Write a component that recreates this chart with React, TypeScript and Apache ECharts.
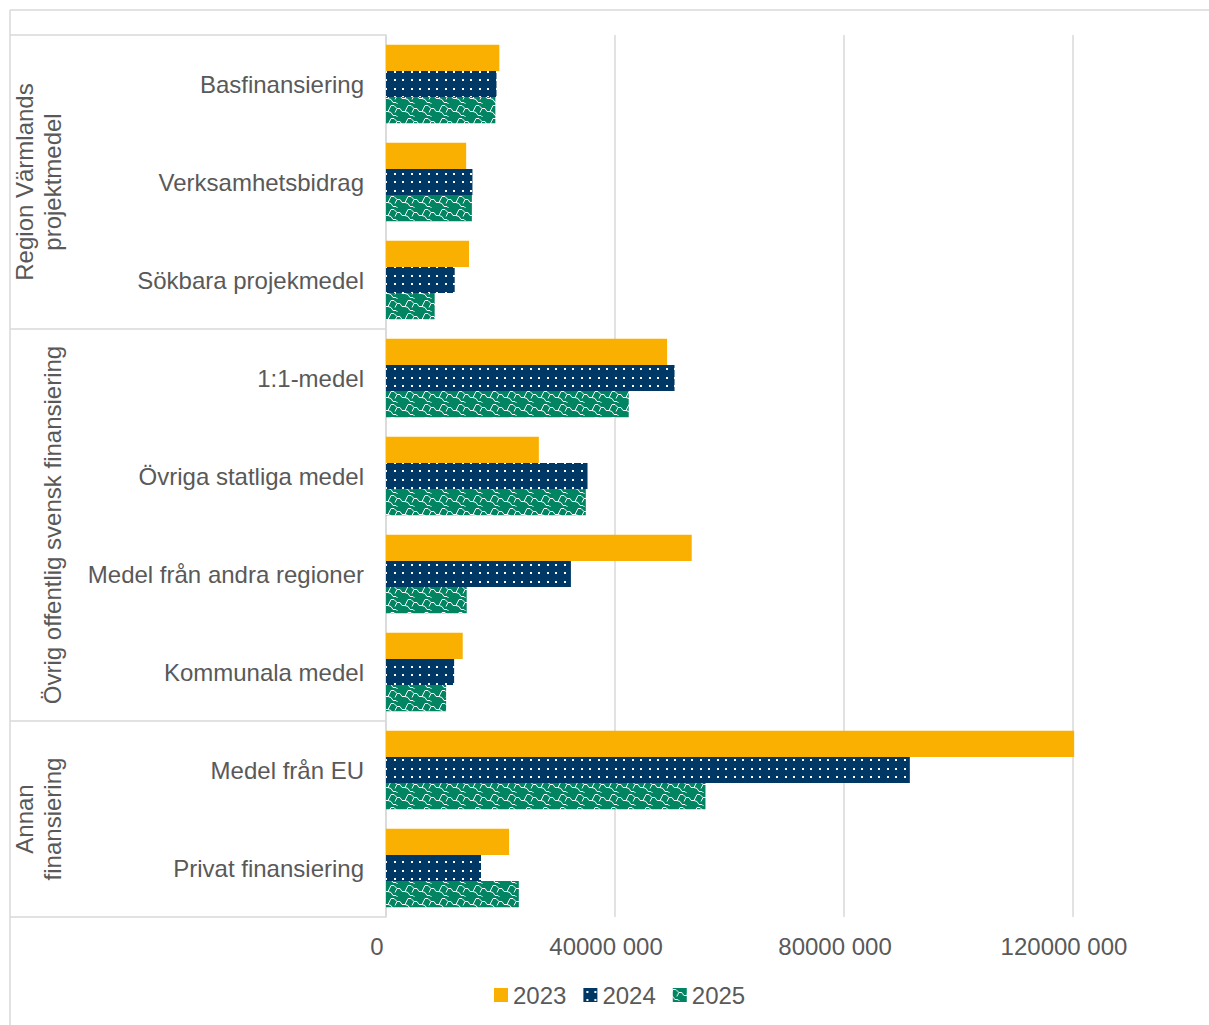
import React, { useEffect, useRef } from "react";
import * as echarts from "echarts";

const categories = [
  "Basfinansiering",
  "Verksamhetsbidrag",
  "Sökbara projekmedel",
  "1:1-medel",
  "Övriga statliga medel",
  "Medel från andra regioner",
  "Kommunala medel",
  "Medel från EU",
  "Privat finansiering",
];
const seriesNames = ["2023", "2024", "2025"];
const values2023 = [19800000, 14000000, 14500000, 49100000, 26700000, 53400000, 13400000, 120200000, 21500000];
const values2024 = [19300000, 15100000, 12000000, 50400000, 35200000, 32300000, 11900000, 91500000, 16600000];
const values2025 = [19100000, 15000000, 8500000, 42400000, 34900000, 14100000, 10500000, 55800000, 23200000];
const xTickLabels = ["0", "40000 000", "80000 000", "120000 000"];
const groupLabels = ["Region Värmlands\nprojektmedel", "Övrig offentlig svensk finansiering", "Annan\nfinansiering"];
const groupSizes = [3, 4, 2];

const FONT = "'Liberation Sans', Arial, sans-serif";
const TEXT = "#595959";
const LINE = "#D9D9D9";
const C2023 = "#F9B000";
const C2024 = "#003865";
const C2025 = "#008461";

// layout
const GRID_LEFT = 386;
const GRID_TOP = 35;
const GRID_H = 882;
const GRID_W = 916;

function makeDots() {
  const c = document.createElement("canvas");
  c.width = 17;
  c.height = 17;
  const ctx = c.getContext("2d")!;
  ctx.fillStyle = C2024;
  ctx.fillRect(0, 0, 17, 17);
  ctx.fillStyle = "#ffffff";
  ctx.fillRect(3, 3, 2, 2);
  ctx.fillRect(11, 3, 2, 2);
  ctx.fillRect(3, 11, 2, 2);
  ctx.fillRect(11, 11, 2, 2);
  return c;
}

function makeWave() {
  const w = 17, h = 13;
  const c = document.createElement("canvas");
  c.width = w;
  c.height = h;
  const ctx = c.getContext("2d")!;
  ctx.fillStyle = C2025;
  ctx.fillRect(0, 0, w, h);
  ctx.strokeStyle = "#ffffff";
  ctx.lineWidth = 1;
  ctx.beginPath();
  // stepped wave lines
  ctx.moveTo(0, 1.5);
  ctx.lineTo(3, 1.5);
  ctx.lineTo(6, 4.5);
  ctx.lineTo(9, 4.5);
  ctx.lineTo(11, 7.5);
  ctx.lineTo(14, 7.5);
  ctx.lineTo(17, 1.5);
  ctx.moveTo(0, 8.5);
  ctx.lineTo(2, 11.5);
  ctx.lineTo(5, 11.5);
  ctx.lineTo(6.5, 13);
  ctx.moveTo(6, 4.5);
  ctx.lineTo(4, 8.5);
  ctx.moveTo(14, 7.5);
  ctx.lineTo(17, 8.5);
  ctx.stroke();
  return c;
}

export default function App() {
  const ref = useRef<HTMLDivElement>(null);
  useEffect(() => {
    if (!ref.current) return;
    const chart = echarts.init(ref.current, null, { renderer: "svg" });
    const dots = makeDots();
    const wave = makeWave();
    const bandH = GRID_H / categories.length;

    const graphics: any[] = [
      { type: "line", shape: { x1: 10, y1: 10, x2: 1209, y2: 10 }, style: { stroke: LINE, lineWidth: 1.5 } },
      { type: "line", shape: { x1: 10, y1: 10, x2: 10, y2: 1025 }, style: { stroke: LINE, lineWidth: 1.5 } },
      { type: "line", shape: { x1: 10, y1: GRID_TOP, x2: GRID_LEFT, y2: GRID_TOP }, style: { stroke: LINE, lineWidth: 1.5 } },
    ];
    let acc = 0;
    groupLabels.forEach((label, i) => {
      const start = acc;
      acc += groupSizes[i];
      const yEnd = GRID_TOP + acc * bandH;
      const yMid = GRID_TOP + ((start + acc) / 2) * bandH;
      graphics.push({
        type: "line",
        shape: { x1: 10, y1: yEnd, x2: GRID_LEFT, y2: yEnd },
        style: { stroke: LINE, lineWidth: 1.5 },
      });
      graphics.push({
        type: "text",
        x: 66,
        y: yMid,
        rotation: Math.PI / 2,
        style: {
          text: label,
          fill: TEXT,
          fontSize: 24,
          fontFamily: FONT,
          lineHeight: 28,
          align: "center",
          verticalAlign: "bottom",
        },
      });
    });

    const option: any = {
      animation: false,
      grid: {
        left: GRID_LEFT,
        top: GRID_TOP,
        width: GRID_W,
        height: GRID_H,
        containLabel: false,
        outerBoundsMode: "none",
      },
      xAxis: {
        type: "value",
        min: 0,
        max: 160000000,
        interval: 40000000,
        axisLine: { show: false },
        axisTick: { show: false },
        splitLine: { show: true, lineStyle: { color: LINE, width: 1.5 } },
        axisLabel: {
          formatter: (_v: number, i: number) => xTickLabels[i] ?? "",
          color: TEXT,
          fontSize: 24,
          fontFamily: FONT,
          margin: 17,
          padding: [0, 18, 0, 0],
        },
      },
      yAxis: {
        type: "category",
        data: categories,
        inverse: true,
        axisLine: { show: true, lineStyle: { color: LINE, width: 1.5 } },
        axisTick: { show: false },
        axisLabel: { color: TEXT, fontSize: 24, fontFamily: FONT, margin: 22 },
        splitLine: { show: false },
      },
      legend: {
        data: seriesNames,
        left: 489,
        top: 978,
        itemWidth: 14,
        itemHeight: 14,
        itemGap: 17,
        icon: "rect",
        textStyle: { color: TEXT, fontSize: 24, fontFamily: FONT },
      },
      graphic: graphics,
      series: [
        {
          name: seriesNames[0],
          type: "bar",
          data: values2023,
          barGap: "0%",
          barCategoryGap: "20%",
          itemStyle: { color: C2023 },
        },
        {
          name: seriesNames[1],
          type: "bar",
          data: values2024,
          barGap: "0%",
          barCategoryGap: "20%",
          itemStyle: { color: { image: dots, repeat: "repeat", imageWidth: 17, imageHeight: 17 } },
        },
        {
          name: seriesNames[2],
          type: "bar",
          data: values2025,
          barGap: "0%",
          barCategoryGap: "20%",
          itemStyle: { color: { image: wave, repeat: "repeat", imageWidth: 17, imageHeight: 13 } },
        },
      ],
    };
    chart.setOption(option);
    return () => chart.dispose();
  }, []);
  return (
    <div
      ref={ref}
      style={{ position: "fixed", left: 0, top: 0, width: 1209, height: 1025, background: "#fff" }}
    />
  );
}
